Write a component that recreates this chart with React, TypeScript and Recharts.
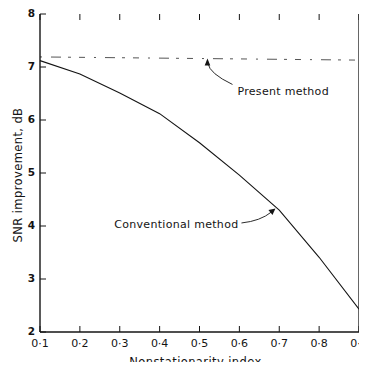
import React from 'react';
import { ComposedChart, Line, XAxis, YAxis, ReferenceDot } from 'recharts';

const xValues = [0.1, 0.2, 0.3, 0.4, 0.5, 0.6, 0.7, 0.8, 0.9];
const conventional = [7.12, 6.87, 6.51, 6.12, 5.57, 4.96, 4.3, 3.41, 2.43];
const presentX = [0.1, 0.9];
const present = [7.19, 7.13];
const xTicks = [0.1, 0.2, 0.3, 0.4, 0.5, 0.6, 0.7, 0.8, 0.9];
const yTicks = [2, 3, 4, 5, 6, 7, 8];

const data = xValues.map((x, i) => {
  const pi = presentX.indexOf(x);
  return { x, conventional: conventional[i], present: pi >= 0 ? present[pi] : undefined };
});

const FONT = 'DejaVu Sans, sans-serif';
const INK = '#141414';
const TICK = 6;

const fmtX = (v: number) => v.toFixed(1).replace('.', '\u00b7');

const BottomTick = (props: any) => {
  const { x, y, payload } = props;
  return (
    <g>
      <line x1={x} y1={y} x2={x} y2={y - TICK} stroke={INK} strokeWidth={1} />
      <text x={x} y={y + 15} textAnchor="middle" fontFamily={FONT} fontSize={11} fill={INK}>{fmtX(payload.value)}</text>
    </g>
  );
};

const TopTick = (props: any) => {
  const { x, y } = props;
  return <line x1={x} y1={y} x2={x} y2={y + TICK} stroke={INK} strokeWidth={1} />;
};

const LeftTick = (props: any) => {
  const { x, y, payload } = props;
  return (
    <g>
      <line x1={x} y1={y} x2={x + TICK} y2={y} stroke={INK} strokeWidth={1} />
      <text x={x - 5} y={y + 3} textAnchor="end" fontFamily={FONT} fontSize={10.5} fontWeight="bold" fill={INK}>{payload.value}</text>
    </g>
  );
};

const RightTick = (props: any) => {
  const { x, y } = props;
  return <line x1={x} y1={y} x2={x - TICK} y2={y} stroke={INK} strokeWidth={1} />;
};

const PresentAnno = (props: any) => {
  const { cx, cy } = props;
  if (cx == null || cy == null) return <g />;
  return (
    <g>
      <path d={`M${cx + 25},${cy + 27} Q${cx + 2},${cy + 16} ${cx + 0.5},${cy + 6}`} stroke={INK} strokeWidth={0.9} fill="none" />
      <polygon points={`${cx},${cy + 1} ${cx - 2.8},${cy + 8} ${cx + 2.8},${cy + 8}`} fill={INK} />
      <text x={cx + 30} y={cy + 38} fontFamily={FONT} fontSize={11} fill={INK} letterSpacing={0.3}>Present method</text>
    </g>
  );
};

const ConvAnno = (props: any) => {
  const { cx, cy } = props;
  if (cx == null || cy == null) return <g />;
  return (
    <g>
      <path d={`M${cx - 35},${cy + 15} Q${cx - 16},${cy + 13} ${cx - 5},${cy + 4}`} stroke={INK} strokeWidth={0.9} fill="none" />
      <polygon points={`${cx - 1},${cy + 0.5} ${cx - 8},${cy + 2} ${cx - 4},${cy + 7}`} fill={INK} />
      <text x={cx - 38} y={cy + 20} textAnchor="end" fontFamily={FONT} fontSize={11} fill={INK} letterSpacing={0.3}>Conventional method</text>
    </g>
  );
};

const YLabel = (props: any) => {
  const vb = props.viewBox || {};
  const cy = (vb.y || 0) + (vb.height || 0) / 2 + 2;
  return (
    <text x={18} y={cy} transform={`rotate(-90 18 ${cy})`} textAnchor="middle" dominantBaseline="central" fontFamily={FONT} fontSize={11.5} fill={INK} letterSpacing={0.4}>
      SNR improvement, dB
    </text>
  );
};

const XLabel = (props: any) => {
  const vb = props.viewBox || {};
  const cx = (vb.x || 0) + (vb.width || 0) / 2;
  const by = (vb.y || 0) + (vb.height || 0);
  return (
    <text x={cx - 4} y={by - 4} textAnchor="middle" fontFamily={FONT} fontSize={11.5} fill={INK} letterSpacing={0.4}>
      Nonstationarity index
    </text>
  );
};

export default function App() {
  return (
    <div style={{ margin: -8, width: 367, height: 370, background: '#fff' }}>
      <ComposedChart width={367} height={370} data={data} margin={{ top: 13, right: 7, bottom: 0, left: 0 }}>
        <XAxis
          dataKey="x"
          type="number"
          domain={[0.1, 0.9]}
          ticks={xTicks}
          height={38}
          tickSize={0}
          tickMargin={0}
          axisLine={{ stroke: INK, strokeWidth: 1.3 }}
          tickLine={false}
          tick={<BottomTick />}
          interval={0}
          label={<XLabel />}
        />
        <XAxis
          xAxisId="top"
          orientation="top"
          dataKey="x"
          type="number"
          domain={[0.1, 0.9]}
          ticks={xTicks}
          height={1}
          tickSize={0}
          tickMargin={0}
          axisLine={false}
          tickLine={false}
          tick={<TopTick />}
          interval={0}
        />
        <YAxis
          type="number"
          domain={[2, 8]}
          ticks={yTicks}
          width={40}
          tickSize={0}
          tickMargin={0}
          axisLine={{ stroke: INK, strokeWidth: 1.4 }}
          tickLine={false}
          tick={<LeftTick />}
          interval={0}
          label={<YLabel />}
        />
        <YAxis
          yAxisId="right"
          orientation="right"
          type="number"
          domain={[2, 8]}
          ticks={yTicks}
          width={1}
          tickSize={0}
          tickMargin={0}
          axisLine={{ stroke: INK, strokeWidth: 1.3 }}
          tickLine={false}
          tick={<RightTick />}
          interval={0}
        />
        <Line
          dataKey="present"
          type="linear"
          stroke="#555"
          strokeWidth={1}
          strokeDasharray="2 9 10 7 3 8 6 9"
          dot={false}
          connectNulls
          isAnimationActive={false}
        />
        <Line
          dataKey="conventional"
          type="linear"
          stroke={INK}
          strokeWidth={1.1}
          dot={false}
          isAnimationActive={false}
        />
        <ReferenceDot x={0.52} y={7.18} r={0} shape={PresentAnno} ifOverflow="visible" />
        <ReferenceDot x={0.693} y={4.34} r={0} shape={ConvAnno} ifOverflow="visible" />
      </ComposedChart>
    </div>
  );
}
